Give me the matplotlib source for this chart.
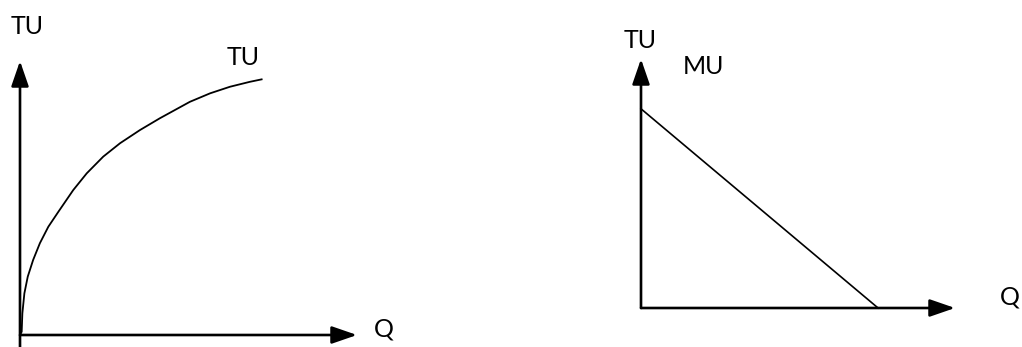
import matplotlib
matplotlib.use("Agg")
import matplotlib.pyplot as plt

plt.rcParams['font.family'] = ['Lato', 'DejaVu Sans']

# left panel: total utility curve (Q, TU), axes run 0..10
tu_q = [0, 0.05, 0.07, 0.13, 0.23, 0.39, 0.59, 0.84, 1.14, 1.58, 1.98,
        2.47, 2.97, 3.56, 4.15, 5.04, 5.64, 6.23, 6.82, 7.17]
tu_vals = [0, 0.12, 0.79, 1.52, 2.13, 2.74, 3.35, 3.95, 4.50, 5.29, 5.90,
           6.51, 7.00, 7.48, 7.91, 8.51, 8.82, 9.06, 9.24, 9.33]

# right panel: marginal utility line
mu_q = [0, 7.55]
mu_vals = [8.0, 0]

W, H = 1022, 347
fig = plt.figure(figsize=(W / 100, H / 100), dpi=100)


def box(x0, y0, x1, y1):
    # pixel box (origin, arrow tips) -> figure fraction
    return [x0 / W, 1 - y0 / H, (x1 - x0) / W, (y0 - y1) / H]


def arrow(ax, start, end):
    ax.annotate('', xy=end, xytext=start,
                arrowprops=dict(arrowstyle='-|>,head_length=1.1,head_width=0.38',
                                mutation_scale=14, lw=1.9, color='black',
                                shrinkA=0, shrinkB=0))


def label(x, y, s):
    fig.text(x / W, 1 - y / H, s, ha='center', va='baseline', fontsize=18)


ax1 = fig.add_axes(box(20, 335, 357, 61))
ax2 = fig.add_axes(box(641, 308, 955, 59))
for ax in (ax1, ax2):
    ax.set_xlim(0, 10)
    ax.set_ylim(0, 10)
    ax.axis('off')

arrow(ax1, (0, -0.44), (0, 10))
arrow(ax1, (0, 0), (10, 0))
ax1.plot(tu_q, tu_vals, color='black', lw=1.3, clip_on=False,
         solid_joinstyle='round')

arrow(ax2, (0, 0), (0, 10))
arrow(ax2, (0, 0), (10, 0))
ax2.plot(mu_q, mu_vals, color='black', lw=1.2, clip_on=False)

label(27, 34, 'TU')
label(243, 65, 'TU')
label(384, 336, 'Q')
label(640, 48, 'TU')
label(703, 74, 'MU')
label(1010, 304, 'Q')

fig.savefig('out.png', dpi=100)
